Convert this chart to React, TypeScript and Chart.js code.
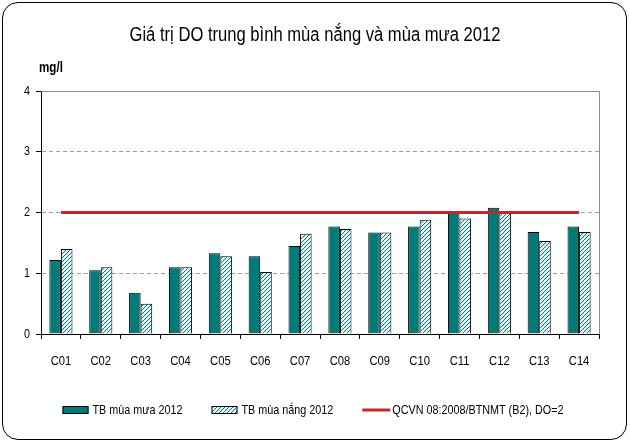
import React, { useEffect, useRef } from "react";
import { Chart, registerables } from "chart.js";

Chart.register(...registerables);

const categories = ["C01", "C02", "C03", "C04", "C05", "C06", "C07", "C08", "C09", "C10", "C11", "C12", "C13", "C14"];
const rainySeason = [1.22, 1.05, 0.68, 1.1, 1.33, 1.28, 1.45, 1.77, 1.67, 1.77, 2.02, 2.08, 1.68, 1.77];
const drySeason = [1.4, 1.1, 0.5, 1.1, 1.28, 1.02, 1.65, 1.73, 1.67, 1.88, 1.9, 2.0, 1.53, 1.68];
const standardDO = categories.map(() => 2);
const yTicks = [0, 1, 2, 3, 4];

const titleText = "Giá trị DO trung bình mùa nắng và mùa mưa 2012";
const unitText = "mg/l";
const seriesNames = ["TB mùa mưa 2012", "TB mùa nắng 2012", "QCVN 08:2008/BTNMT (B2), DO=2"];

const FONT = "'Liberation Sans', Arial, sans-serif";
const NARROW = 0.83;
const TEAL = "#007b78";
const RED = "#c0272d";

function makeHatch(): CanvasPattern | string {
  const c = document.createElement("canvas");
  c.width = 4;
  c.height = 4;
  const g = c.getContext("2d");
  if (!g) return "#dff";
  g.fillStyle = "#e8f6f5";
  g.fillRect(0, 0, 4, 4);
  g.strokeStyle = TEAL;
  g.lineWidth = 1;
  g.beginPath();
  g.moveTo(-1, 1); g.lineTo(1, -1);
  g.moveTo(0, 4); g.lineTo(4, 0);
  g.moveTo(3, 5); g.lineTo(5, 3);
  g.stroke();
  const p = g.createPattern(c, "repeat");
  return p || "#dff";
}

function narrowText(ctx: CanvasRenderingContext2D, text: string, x: number, y: number, size: number, align: CanvasTextAlign, bold = false) {
  ctx.save();
  ctx.font = `${bold ? "bold " : ""}${size}px ${FONT}`;
  ctx.textAlign = align;
  ctx.textBaseline = "middle";
  ctx.fillStyle = "#000";
  ctx.translate(x, y);
  ctx.scale(NARROW, 1);
  ctx.fillText(text, 0, 0);
  ctx.restore();
}

function narrowWidth(ctx: CanvasRenderingContext2D, text: string, size: number) {
  ctx.save();
  ctx.font = `${size}px ${FONT}`;
  const w = ctx.measureText(text).width * NARROW;
  ctx.restore();
  return w;
}

const decorPlugin = {
  id: "decor",
  beforeDatasetsDraw(chart: any) {
    const { ctx, chartArea } = chart;
    ctx.save();
    ctx.strokeStyle = "#8c8c8c";
    ctx.lineWidth = 1;
    ctx.beginPath();
    ctx.moveTo(chartArea.left, chartArea.top + 0.5);
    ctx.lineTo(chartArea.right + 0.5, chartArea.top + 0.5);
    ctx.lineTo(chartArea.right + 0.5, chartArea.bottom);
    ctx.stroke();
    ctx.restore();
  },
  afterDraw(chart: any) {
    const { ctx, width, chartArea, scales } = chart;
    narrowText(ctx, titleText, width / 2, 35, 20, "center");
    narrowText(ctx, unitText, chartArea.left - 2, 68, 14, "left", true);
    yTicks.forEach((v) => {
      narrowText(ctx, String(v), chartArea.left - 11, scales.y.getPixelForValue(v), 13, "right");
    });
    categories.forEach((c, i) => {
      narrowText(ctx, c, scales.x.getPixelForTick(i), chartArea.bottom + 27, 13.5, "center");
    });
    const ds = chart.data.datasets;
    const boxW = 26;
    const boxGap = 4;
    const itemGap = 29;
    const size = 13;
    const widths = seriesNames.map((n) => boxW + boxGap + narrowWidth(ctx, n, size));
    const total = widths.reduce((a, b) => a + b, 0) + itemGap * (widths.length - 1);
    let x = width / 2 - 2 - total / 2;
    const y = 410;
    seriesNames.forEach((name, i) => {
      ctx.save();
      if (i < 2) {
        ctx.fillStyle = ds[i].backgroundColor;
        ctx.fillRect(x, y - 3.5, boxW, 7);
        ctx.strokeStyle = "#000";
        ctx.lineWidth = 1;
        ctx.strokeRect(x + 0.5, y - 3.5, boxW - 1, 7);
      } else {
        ctx.strokeStyle = ds[i].borderColor;
        ctx.lineWidth = 3;
        ctx.beginPath();
        ctx.moveTo(x, y);
        ctx.lineTo(x + boxW + 2, y);
        ctx.stroke();
      }
      ctx.restore();
      narrowText(ctx, name, x + boxW + boxGap, y, size, "left");
      x += widths[i] + itemGap;
    });
  },
};

export default function App() {
  const ref = useRef<HTMLCanvasElement>(null);
  useEffect(() => {
    if (!ref.current) return;
    const hatch = makeHatch();
    const chart = new Chart(ref.current, {
      type: "bar",
      data: {
        labels: categories,
        datasets: [
          {
            type: "bar",
            label: seriesNames[0],
            data: rainySeason,
            backgroundColor: TEAL,
            borderColor: "#000",
            borderWidth: 1,
            barPercentage: 1,
            categoryPercentage: 0.58,
            order: 1,
          },
          {
            type: "bar",
            label: seriesNames[1],
            data: drySeason,
            backgroundColor: hatch as any,
            borderColor: "#000",
            borderWidth: 1,
            barPercentage: 1,
            categoryPercentage: 0.58,
            order: 1,
          },
          {
            type: "line",
            label: seriesNames[2],
            data: standardDO,
            borderColor: RED,
            backgroundColor: RED,
            borderWidth: 3,
            pointRadius: 0,
            order: 0,
          } as any,
        ],
      },
      options: {
        animation: false,
        responsive: false,
        maintainAspectRatio: false,
        layout: { padding: { top: 91, right: 31, left: 0, bottom: 0 } },
        plugins: {
          title: { display: false },
          tooltip: { enabled: false },
          legend: { display: false },
        },
        scales: {
          x: {
            offset: true,
            grid: {
              offset: true,
              drawOnChartArea: false,
              drawTicks: true,
              tickLength: 5,
              tickColor: "#000",
            },
            border: { display: true, color: "#000", width: 1 },
            ticks: { display: false },
            afterFit: (s: any) => {
              s.height = 109;
            },
          },
          y: {
            min: 0,
            max: 4,
            afterBuildTicks: (s: any) => {
              s.ticks = yTicks.map((v) => ({ value: v }));
            },
            grid: {
              color: (c: any) => (c.tick && c.tick.value > 0 && c.tick.value < 4 ? "#a0a0a0" : "rgba(0,0,0,0)"),
              tickColor: "#000",
              tickLength: 5,
              lineWidth: 1,
            },
            border: { display: true, color: "#000", width: 1, dash: [4, 3] },
            ticks: { display: false },
            afterFit: (s: any) => {
              s.width = 41;
            },
          },
        },
      },
      plugins: [decorPlugin],
    });
    return () => chart.destroy();
  }, []);

  return (
    <div style={{ position: "absolute", left: 0, top: 0, width: 630, height: 443, background: "#fff" }}>
      <canvas ref={ref} width={630} height={443} style={{ display: "block" }} />
      <div
        style={{
          position: "absolute",
          left: 2,
          top: 2,
          width: 625,
          height: 438,
          boxSizing: "border-box",
          border: "1px solid #000",
          borderRadius: 16,
          pointerEvents: "none",
        }}
      />
    </div>
  );
}
